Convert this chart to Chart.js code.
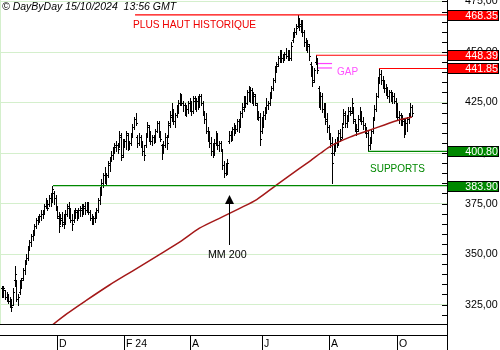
<!DOCTYPE html>
<html lang="fr">
<head>
    <meta charset="UTF-8">
    <title>DayByDay - graphique quotidien</title>
    <script src="https://cdn.jsdelivr.net/npm/chart.js"></script>
    <style>
        html, body { margin: 0; padding: 0; background: #ffffff; }
        canvas { display: block; }
    </style>
</head>
<body>
    <canvas id="coursChart" width="500" height="350"></canvas>

    <script>
        // Séances quotidiennes : ouverture, plus haut, plus bas, clôture
        const opens = [
            333,330,332,329,330,327,327,325,337,336,
            328,331,336,338,342,346,348,353,356,359,
            360,364,367,367,369,370,371,374,376,375,
            378,377,380,378,373,368,366,367,365,369,
            370,373,371,367,367,370,371,369,372,372,
            371,373,372,375,371,368,366,368,369,372,
            377,381,385,389,386,389,394,397,399,402,
            403,404,404,408,399,405,406,409,404,405,
            409,413,417,408,405,408,405,401,404,409,
            413,408,406,408,406,411,415,410,404,401,
            404,408,409,414,418,421,416,419,422,425,
            428,425,424,421,422,425,423,421,426,424,
            426,427,428,425,420,417,411,408,405,401,
            403,405,409,404,405,401,394,390,392,406,
            409,407,412,413,412,416,414,420,422,427,
            425,430,428,431,427,428,424,419,418,411,
            415,419,421,424,425,429,432,436,441,444,
            447,450,447,448,449,448,450,447,456,459,
            460,463,466,464,465,460,455,452,453,444,
            440,436,445,446,432,425,428,422,420,416,
            413,408,400,400,402,405,405,410,408,415,
            419,415,418,421,421,422,416,413,412,417,
            420,416,414,411,410,404,406,411,417,422,
            428,436,439,436,434,432,430,428,430,427,
            428,426,420,418,419,416,416,410,415,417,
            419,423
        ];
        const highs = [
            334,334,332,331,330,329,328,333,344,337,
            330,337,338,343,347,350,354,357,360,362,
            365,368,369,370,372,372,375,378,377,379,
            380,383.5,381,379,374,371,370,371,370,372,
            375,376,373,370,372,373,372,373,374,375,
            375,376,376,376,372,370,369,371,373,378,
            383,387,390,393,390,396,398,401,403,405,
            406,405,411,410,407,407,411,410,406,410,
            414.5,418,420,409,410,409,406,404,410,415.5,
            414,411,409,409,412,416,416,411,404.7,406,
            409.7,409,416,421,424.6,422,420,424,426.2,429.5,
            429,426,425,424,426,427,426,428,428,427,
            428,429,429,426,421,419.6,413,411,408,405,
            407,411,410,406,406,402,396,395,397,411,
            411,413,415,414,417,417,421,424.6,428,428,
            431,433,432.5,432,430,429,424.6,421,420,418,
            421,423,427,426,430,433,437,443,445,448,
            451,451,449,450,452,451,451,455,460,462,
            464,468.35,467,466,466,461,457,456,454,445,
            443,441.9,448.39,447,433,430,429.5,425,424.6,419.6,
            414,410,408,404.8,407,408,411.3,412,415,422,
            421,419,423,423,427,423,417,414.6,419,422.9,
            421,418,415,413,411.3,408,412,418,424,429.5,
            437.8,441.85,441,438,436,434.4,432.8,431,431,430,
            429.5,427,424.6,421,420,419,417,417,418,420,
            424.6,424
        ];
        const lows = [
            329,329,328,327,326,324,322,325,334,327,
            325,330,333,337,340,345,347,352,354,357,
            359.5,363,365,366,367,368,370,373,372,374,
            374,376,375,372,368,361,365,364,363,365,
            369,368,366,362,366,368,367,368,369,369,
            370,370,371,370,367,365,365,366,368,371,
            375,379,383,385,384,388,391,396,397,400,
            401,400,403,396.5,398,403,402,401.5,402,404,
            408,412,414,403,404,403,399,396.5,403,408,
            406,404.7,404,405,405.5,410.5,408,406,397.3,400,
            403,402,408,413,416,414.6,413,418,420,424,
            423.7,421,419,418.5,420,421,419,420,422,421,
            422,423,424,419,415,410,406,403,399,398,
            399,404,402,401,401,392,388.3,389,389.5,405,
            406,406.5,409,410,411,410.6,413,418,421,423,
            424.5,426,425.4,425,424,424,417,416.3,404,410,
            413,417,420,422,424,427,431,435,440,443,
            445,445,445,446,447,446,446,446,455,457.6,
            459,462.6,461,460,458,453,451,450,446,438,
            433,435,444.1,439.5,423,422,420.4,418,414.6,410.5,
            407,403,385,399,401,403,404.5,406,407.5,414.6,
            413,413,416,418.8,420,415,411,408.9,411,416,
            414.6,412,410,408,400.8,402,405,410,416.5,421,
            427.8,434.5,434,432,430,428.7,427,425.4,426,425,
            424.6,418,416.3,415,414,413.8,408,409.5,411,415,
            418.5,418.5
        ];
        const closes = [
            330,333,329,330,327,328,324,331,340,328,
            329,336,337,342,346,348,352,356,359,360,
            364,367,366,369,370,371,374,377,373,378,
            377,382,378,374,369,364,368,366,369,370,
            374,370,367,365,371,372,369,372,373,371,
            374,372,375,371,368,366,368,370,372,377,
            381,385,389,387,389,395,397,399,402,404,
            404,402,409,398,405,406,410,404,405,409,
            413,417,415,405,408,405,401,399,409,414,
            408,406,408,406,411,415,410,407,400,404,
            408,405,415,419,422,416,419,423,425,428,
            425,424,421,422,425,423,421,427,424,426,
            427,428,425,420,417,411,408,405,401,403,
            405,409,404,405,402,394,390,394,395,409,
            407,412,413,412,416,413,420,423,427,425,
            430,428,431,427,429,425,419,418,407,416,
            419,421,424,425,429,432,436,441,443,447,
            450,447,448,449,448,450,447,453,459,460,
            462,467,463,465,460,455,452,454,448,440,
            435,441,447,441,425,428,422,420,417,413,
            409,405,395,403,405,404,410,407,413,420,
            415,418,421,420,425,417,413,411,417,421,
            416,414,411,410,404,406,411,417,422,428,
            435,439,436,434,432,430,428,430,427,428,
            426,420,418,419,416,417,410,415,417,419,
            423,420
        ];

        // Moyenne mobile 200 jours (n° de séance, valeur)
        const maIndex = [28, 40, 52, 66, 80, 95, 110, 121, 135, 145, 156, 168, 182, 189, 195, 202, 213, 225, 242, 251];
        const maValues = [313, 320.5, 327.2, 334.7, 341.6, 349, 356.5, 362.8, 368.4, 372.4, 377, 384.1, 392.3, 396.3, 399.9, 403.8, 407.9, 411.3, 416.1, 417.8];

        // Axe des dates : première séance de chaque mois affiché
        const monthIndex = [34, 75, 115, 159, 200, 242];
        const monthLabels = ['D', 'F 24', 'A', 'J', 'A', 'O'];

        // Niveaux remarquables et séance de départ du trait
        const levelValues = [468.35, 448.39, 441.85, 400.80, 383.90];
        const levelStart = [81.6, 192.3, 230.8, 224.1, 31.4];
        const levelLabels = ['468.35', '448.39', '441.85', '400.80', '383.90'];

        // Gap de juillet
        const gapValues = [444.3, 442.1];
        const gapRange = [193.5, 202.1];

        const X_MIN = -1, X_MAX = 272.4;
        const FONT = '"Liberation Sans", Arial, sans-serif';
        const RED = '#ff0000', GREEN = '#008800';
        const levelColors = [RED, RED, RED, GREEN, GREEN];

        // Textes posés sur le graphique (coordonnées en séance / cours)
        const notes = [
            { text: 'PLUS HAUT HISTORIQUE', x: 80.3, y: 463.4, color: '#ee0000', size: 10.2 },
            { text: 'GAP', x: 205.1, y: 439.8, color: '#ff50ff', size: 10 },
            { text: 'SUPPORTS', x: 225.3, y: 392.1, color: '#008800', size: 10 },
            { text: 'MM 200', x: 126.2, y: 349.5, color: '#000000', size: 10.7 }
        ];
        const arrowMM = { x: 139.1, from: 354.5, to: 379.2 };

        const datasets = [];
        levelValues.forEach((v, k) => {
            datasets.push({
                data: [{ x: levelStart[k], y: v }, { x: X_MAX, y: v }],
                borderColor: levelColors[k], borderWidth: 1.2, pointRadius: 0
            });
        });
        gapValues.forEach(v => {
            datasets.push({
                data: [{ x: gapRange[0], y: v }, { x: gapRange[1], y: v }],
                borderColor: '#ff40ff', borderWidth: 1.2, pointRadius: 0
            });
        });
        datasets.push({
            label: 'MM 200',
            data: maIndex.map((v, k) => ({ x: v, y: maValues[k] })),
            borderColor: '#a41818', borderWidth: 1.5, pointRadius: 0, tension: 0.3
        });

        // Barres OHLC : trait haut-bas, tiret gauche = ouverture, tiret droit = clôture
        const ohlcPlugin = {
            id: 'ohlc',
            beforeDatasetsDraw(chart) {
                const { ctx, chartArea: a, scales: { x, y } } = chart;
                ctx.save();
                ctx.beginPath();
                ctx.rect(a.left, a.top, a.width, a.height);
                ctx.clip();
                ctx.fillStyle = '#000000';
                for (let i = 0; i < highs.length; i++) {
                    const px = Math.round(x.getPixelForValue(i));
                    const yh = Math.round(y.getPixelForValue(highs[i]));
                    const yl = Math.round(y.getPixelForValue(lows[i]));
                    const yo = Math.round(y.getPixelForValue(opens[i]));
                    const yc = Math.round(y.getPixelForValue(closes[i]));
                    ctx.fillRect(px, yh, 1, yl - yh + 1);
                    ctx.fillRect(px - 1, yo, 1, 1);
                    ctx.fillRect(px + 1, yc, 1, 1);
                }
                ctx.restore();
            }
        };

        // Décor : repères, axe des dates, étiquettes des niveaux, textes
        const decorPlugin = {
            id: 'decor',
            afterDraw(chart) {
                const { ctx, chartArea: a, scales: { x, y } } = chart;
                const right = Math.round(a.right);
                const bottom = Math.round(a.bottom);
                ctx.save();

                ctx.fillStyle = '#d4efcc';
                ctx.fillRect(0, 0, 1, bottom);

                ctx.fillStyle = '#000000';
                y.ticks.forEach(t => {
                    const py = Math.round(y.getPixelForValue(t.value));
                    ctx.fillRect(right - 5, py, 5, 1);
                });
                ctx.fillRect(right, 0, 1, chart.height);
                ctx.fillRect(0, bottom, right, 1);
                ctx.fillRect(0, bottom + 11, right, 1);

                ctx.font = '10.5px ' + FONT;
                ctx.textAlign = 'left';
                ctx.textBaseline = 'alphabetic';
                monthIndex.forEach((m, k) => {
                    const px = Math.round(x.getPixelForValue(m));
                    ctx.fillRect(px, bottom + 11, 1, chart.height - bottom - 11);
                    ctx.fillText(monthLabels[k], px + 2, 347);
                });

                ctx.font = 'italic 10.5px ' + FONT;
                ctx.fillText('\u00A9 DayByDay 15/10/2024  13:56 GMT', 2, 10);

                notes.forEach(n => {
                    ctx.font = n.size + 'px ' + FONT;
                    ctx.fillStyle = n.color;
                    ctx.textBaseline = 'middle';
                    ctx.fillText(n.text, x.getPixelForValue(n.x), y.getPixelForValue(n.y));
                });

                const ax = Math.round(x.getPixelForValue(arrowMM.x)) + 0.5;
                const ay0 = y.getPixelForValue(arrowMM.from);
                const ay1 = y.getPixelForValue(arrowMM.to);
                ctx.strokeStyle = '#000000';
                ctx.lineWidth = 1;
                ctx.beginPath();
                ctx.moveTo(ax, ay0);
                ctx.lineTo(ax, ay1 + 6);
                ctx.stroke();
                ctx.fillStyle = '#000000';
                ctx.beginPath();
                ctx.moveTo(ax, ay1);
                ctx.lineTo(ax - 4.5, ay1 + 9);
                ctx.lineTo(ax + 4.5, ay1 + 9);
                ctx.closePath();
                ctx.fill();

                ctx.font = '10.7px ' + FONT;
                ctx.textAlign = 'right';
                ctx.textBaseline = 'middle';
                levelValues.forEach((v, k) => {
                    const py = Math.round(y.getPixelForValue(v));
                    ctx.fillStyle = levelColors[k];
                    ctx.fillRect(right, py - 5, 52, 11);
                    ctx.strokeStyle = '#000000';
                    ctx.strokeRect(right + 0.5, py - 4.5, 51, 10);
                    ctx.fillStyle = '#ffffff';
                    ctx.fillText(levelLabels[k], 498, py + 1);
                });

                ctx.restore();
            }
        };

        new Chart(document.getElementById('coursChart'), {
            type: 'line',
            data: { datasets },
            options: {
                responsive: false,
                animation: false,
                events: [],
                layout: { padding: { left: 0, right: 0, top: 0, bottom: 26 } },
                scales: {
                    x: { type: 'linear', min: X_MIN, max: X_MAX, display: false },
                    y: {
                        position: 'right',
                        min: 315.4,
                        max: 475.74,
                        border: { display: true, color: '#000000', width: 1 },
                        grid: {
                            drawTicks: false,
                            lineWidth: 1,
                            color: c => (c.tick && c.tick.value % 25 === 0) ? '#d4efcc' : 'rgba(0,0,0,0)'
                        },
                        ticks: {
                            stepSize: 5,
                            includeBounds: false,
                            autoSkip: false,
                            padding: 18,
                            color: '#000000',
                            font: { family: FONT, size: 10.7 },
                            callback: v => v % 25 === 0 ? v.toFixed(2).replace('.', ',') : ''
                        },
                        afterFit: s => { s.width = 53; s.paddingTop = 0; s.paddingBottom = 0; }
                    }
                },
                plugins: {
                    legend: { display: false },
                    tooltip: { enabled: false }
                }
            },
            plugins: [ohlcPlugin, decorPlugin]
        });
    </script>
</body>
</html>
